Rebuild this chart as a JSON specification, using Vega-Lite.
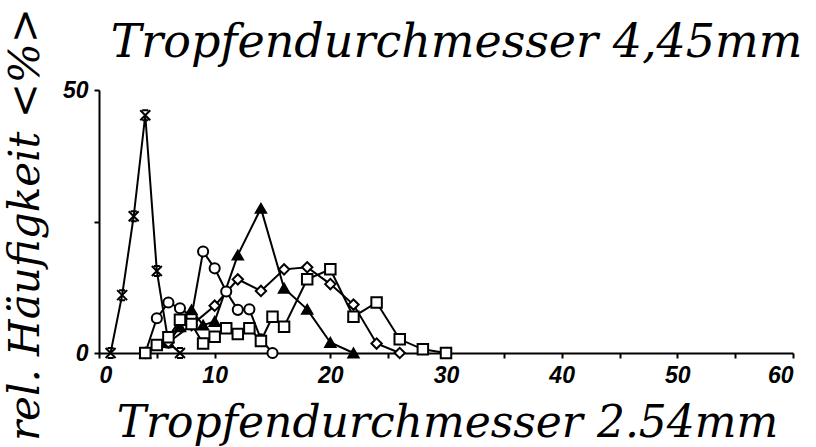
{
  "$schema": "https://vega.github.io/schema/vega-lite/v6.json",
  "autosize": "none",
  "width": 694,
  "height": 263,
  "padding": {"left": 99, "top": 90, "right": 23, "bottom": 94},
  "background": "white",
  "config": {"view": {"stroke": null}},
  "data": {
    "values": [
      {"s": "star", "x": 1, "y": 0},
      {"s": "star", "x": 2, "y": 11},
      {"s": "star", "x": 3, "y": 26},
      {"s": "star", "x": 4, "y": 45.2},
      {"s": "star", "x": 5, "y": 15.6},
      {"s": "star", "x": 6, "y": 2},
      {"s": "star", "x": 7, "y": 0},
      {"s": "circle", "x": 4, "y": 0},
      {"s": "circle", "x": 5, "y": 6.6},
      {"s": "circle", "x": 6, "y": 9.6},
      {"s": "circle", "x": 7, "y": 8.5},
      {"s": "circle", "x": 8, "y": 7},
      {"s": "circle", "x": 9, "y": 19.3},
      {"s": "circle", "x": 10, "y": 16.1},
      {"s": "circle", "x": 11, "y": 11.7},
      {"s": "circle", "x": 12, "y": 8.2},
      {"s": "circle", "x": 13, "y": 8.3},
      {"s": "circle", "x": 14, "y": 2.6},
      {"s": "circle", "x": 15, "y": 0},
      {"s": "triangle", "x": 4, "y": 0},
      {"s": "triangle", "x": 6, "y": 2},
      {"s": "triangle", "x": 7, "y": 5},
      {"s": "triangle", "x": 8, "y": 8.2},
      {"s": "triangle", "x": 9, "y": 5.3},
      {"s": "triangle", "x": 10, "y": 6},
      {"s": "triangle", "x": 12, "y": 18.6},
      {"s": "triangle", "x": 14, "y": 27.5},
      {"s": "triangle", "x": 16, "y": 12.3},
      {"s": "triangle", "x": 18, "y": 8.3},
      {"s": "triangle", "x": 20, "y": 2},
      {"s": "triangle", "x": 22, "y": 0},
      {"s": "diamond", "x": 4, "y": 0},
      {"s": "diamond", "x": 6, "y": 2},
      {"s": "diamond", "x": 8, "y": 5.3},
      {"s": "diamond", "x": 10, "y": 9},
      {"s": "diamond", "x": 12, "y": 14},
      {"s": "diamond", "x": 14, "y": 11.8},
      {"s": "diamond", "x": 16, "y": 15.9},
      {"s": "diamond", "x": 18, "y": 16.3},
      {"s": "diamond", "x": 20, "y": 13.1},
      {"s": "diamond", "x": 22, "y": 9.2},
      {"s": "diamond", "x": 24, "y": 1.8},
      {"s": "diamond", "x": 26, "y": 0},
      {"s": "square", "x": 4, "y": 0},
      {"s": "square", "x": 5, "y": 1.5},
      {"s": "square", "x": 6, "y": 3},
      {"s": "square", "x": 7, "y": 6.3},
      {"s": "square", "x": 8, "y": 5.5},
      {"s": "square", "x": 9, "y": 1.8},
      {"s": "square", "x": 10, "y": 3.1},
      {"s": "square", "x": 11, "y": 4.7},
      {"s": "square", "x": 12, "y": 3.6},
      {"s": "square", "x": 13, "y": 4.7},
      {"s": "square", "x": 14, "y": 2.3},
      {"s": "square", "x": 15, "y": 6.9},
      {"s": "square", "x": 16, "y": 5},
      {"s": "square", "x": 18, "y": 14},
      {"s": "square", "x": 20, "y": 15.9},
      {"s": "square", "x": 22, "y": 6.9},
      {"s": "square", "x": 24, "y": 9.6},
      {"s": "square", "x": 26, "y": 2.6},
      {"s": "square", "x": 28, "y": 0.7},
      {"s": "square", "x": 30, "y": 0}
    ]
  },
  "encoding": {
    "y": {
      "field": "y",
      "type": "quantitative",
      "scale": {"domain": [0, 50], "nice": false},
      "axis": {
        "values": [0, 25, 50],
        "labelExpr": "datum.value == 25 ? '' : datum.label",
        "grid": false,
        "domainColor": "black",
        "domainWidth": 2,
        "tickColor": "black",
        "tickWidth": 2,
        "tickSize": 5,
        "labelFont": "Liberation Sans",
        "labelFontStyle": "italic",
        "labelFontWeight": "bold",
        "labelFontSize": 23,
        "labelColor": "black",
        "labelPadding": 6,
        "title": "rel. Häufigkeit <%>",
        "titleFont": "DejaVu Serif",
        "titleFontStyle": "italic",
        "titleFontWeight": "normal",
        "titleFontSize": 42,
        "titleColor": "black",
        "titleAngle": -90,
        "titleBaseline": "alphabetic",
        "titleAlign": "center",
        "titleX": -61,
        "titleY": 134
      }
    }
  },
  "layer": [
    {
      "mark": {"type": "line", "color": "black", "strokeWidth": 2},
      "encoding": {
        "x": {
          "field": "x",
          "type": "quantitative",
          "scale": {"domain": [0, 60], "nice": false, "zero": false},
          "axis": {
            "values": [0, 5, 10, 15, 20, 25, 30, 35, 40, 45, 50, 55, 60],
            "labelExpr": "datum.value % 10 == 0 ? datum.label : ''",
            "grid": false,
            "domainColor": "black",
            "domainWidth": 2,
            "tickColor": "black",
            "tickWidth": 2,
            "tickSize": 5,
            "labelFont": "Liberation Sans",
            "labelFontStyle": "italic",
            "labelFontWeight": "bold",
            "labelFontSize": 23,
            "labelColor": "black",
            "labelPadding": 6,
            "title": "Tropfendurchmesser 2.54mm",
            "titleFont": "DejaVu Serif",
            "titleFontStyle": "italic",
            "titleFontWeight": "normal",
            "titleFontSize": 44,
            "titleColor": "black",
            "titleBaseline": "alphabetic",
            "titleX": 348,
            "titleY": 83
          }
        },
        "detail": {"field": "s"}
      }
    },
    {
      "mark": {"type": "point", "filled": false, "strokeWidth": 2, "opacity": 1},
      "encoding": {
        "x": {
          "field": "x",
          "type": "quantitative",
          "axis": {
            "orient": "top",
            "domain": false,
            "ticks": false,
            "labels": false,
            "grid": false,
            "title": "Tropfendurchmesser 4,45mm",
            "titleFont": "DejaVu Serif",
            "titleFontStyle": "italic",
            "titleFontWeight": "normal",
            "titleFontSize": 46,
            "titleColor": "black",
            "titleBaseline": "alphabetic",
            "titleX": 357,
            "titleY": -34
          }
        },
        "shape": {
          "field": "s",
          "scale": {
            "domain": ["star", "circle", "triangle", "diamond", "square"],
            "range": ["M-1,-1L1,1M1,-1L-1,1M-0.6,-1L0.6,-1M-0.6,1L0.6,1", "circle", "triangle-up", "diamond", "square"]
          },
          "legend": null
        },
        "fill": {
          "field": "s",
          "scale": {
            "domain": ["star", "circle", "triangle", "diamond", "square"],
            "range": ["transparent", "white", "black", "white", "white"]
          },
          "legend": null
        },
        "size": {
          "field": "s",
          "scale": {
            "domain": ["star", "circle", "triangle", "diamond", "square"],
            "range": [100, 110, 70, 60, 85]
          },
          "legend": null
        },
        "stroke": {"value": "black"}
      }
    }
  ],
  "resolve": {"axis": {"x": "independent"}}
}
